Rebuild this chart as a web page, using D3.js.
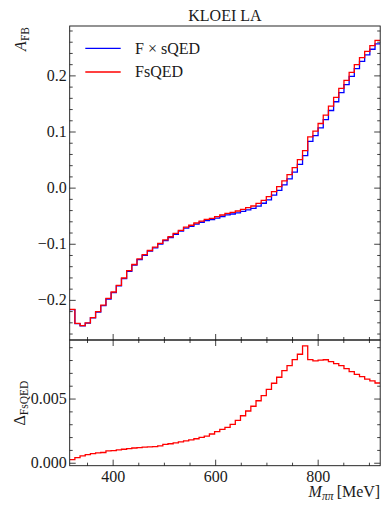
<!DOCTYPE html>
<html>
<head>
<meta charset="utf-8">
<script src="https://cdn.jsdelivr.net/npm/d3@7"></script>
<style>
  html, body { margin: 0; padding: 0; background: #fff; }
  svg { display: block; }
  text { font-family: "Liberation Serif", "Times New Roman", serif; fill: #1a1a1a; }
</style>
</head>
<body>
<svg id="chart" width="381" height="505"></svg>
<script>
// Bin edges in M_pipi [MeV]: 60 equal bins from sqrt(0.1) to sqrt(0.85) GeV
const binEdges = [
  316.2, 326.3, 336.4, 346.5, 356.6, 366.7, 376.8, 386.9, 397.0, 407.1,
  417.2, 427.3, 437.4, 447.5, 457.6, 467.7, 477.8, 487.9, 497.9, 508.0,
  518.1, 528.2, 538.3, 548.4, 558.5, 568.6, 578.7, 588.8, 598.9, 609.0,
  619.1, 629.2, 639.3, 649.4, 659.5, 669.6, 679.7, 689.8, 699.8, 709.9,
  720.0, 730.1, 740.2, 750.3, 760.4, 770.5, 780.6, 790.7, 800.8, 810.9,
  821.0, 831.1, 841.2, 851.3, 861.4, 871.5, 881.6, 891.7, 901.8, 911.9,
  922.0
];

// Forward-backward asymmetry, F x sQED
const afbFxsQED = [
  -0.2172, -0.2424, -0.2465, -0.2416, -0.2322, -0.2218, -0.2103, -0.1984, -0.1870, -0.1750,
  -0.1621, -0.1491, -0.1382, -0.1282, -0.1207, -0.1132, -0.1073, -0.1008, -0.0944, -0.0890,
  -0.0831, -0.0776, -0.0722, -0.0688, -0.0649, -0.0617, -0.0588, -0.0569, -0.0542, -0.0514,
  -0.0486, -0.0470, -0.0449, -0.0424, -0.0397, -0.0371, -0.0328, -0.0278, -0.0217, -0.0133,
  -0.0049,  0.0048,  0.0157,  0.0277,  0.0416,  0.0569,  0.0825,  0.0928,  0.1063,  0.1213,
   0.1374,  0.1530,  0.1692,  0.1837,  0.1983,  0.2121,  0.2249,  0.2364,  0.2466,  0.2563
];

// Forward-backward asymmetry, FsQED
const afbFsQED = [
  -0.2170, -0.2420, -0.2460, -0.2410, -0.2315, -0.2210, -0.2095, -0.1975, -0.1860, -0.1740,
  -0.1610, -0.1480, -0.1370, -0.1270, -0.1195, -0.1120, -0.1060, -0.0995, -0.0930, -0.0875,
  -0.0815, -0.0760, -0.0705, -0.0670, -0.0630, -0.0597, -0.0567, -0.0547, -0.0518, -0.0488,
  -0.0458, -0.0440, -0.0416, -0.0387, -0.0357, -0.0327, -0.0280, -0.0226, -0.0160, -0.0071,
   0.0018,  0.0120,  0.0233,  0.0357,  0.0500,  0.0660,  0.0905,  0.1007,  0.1143,  0.1293,
   0.1453,  0.1607,  0.1768,  0.1910,  0.2054,  0.2190,  0.2316,  0.2429,  0.2530,  0.2625
];

// Difference of the two asymmetries
const deltaFsQED = [
  0.00024, 0.00040, 0.00053, 0.00063, 0.00071, 0.00077, 0.00080, 0.00092, 0.00095, 0.00101,
  0.00105, 0.00110, 0.00115, 0.00118, 0.00121, 0.00123, 0.00125, 0.00131, 0.00143, 0.00148,
  0.00155, 0.00163, 0.00170, 0.00178, 0.00187, 0.00197, 0.00208, 0.00224, 0.00243, 0.00260,
  0.00276, 0.00299, 0.00330, 0.00366, 0.00403, 0.00440, 0.00483, 0.00522, 0.00572, 0.00619,
  0.00666, 0.00717, 0.00756, 0.00803, 0.00845, 0.00911, 0.00803, 0.00793, 0.00800, 0.00802,
  0.00787, 0.00772, 0.00756, 0.00733, 0.00709, 0.00689, 0.00670, 0.00652, 0.00637, 0.00621
];

const xMajorTicks = [400, 600, 800];
const xMinorTicks = [350, 450, 500, 550, 650, 700, 750, 850, 900];
const topMajorTicks = [-0.2, -0.1, 0.0, 0.1, 0.2];
const topMinorTicks = [-0.26, -0.24, -0.22, -0.18, -0.16, -0.14, -0.12, -0.08, -0.06, -0.04, -0.02,
                       0.02, 0.04, 0.06, 0.08, 0.12, 0.14, 0.16, 0.18, 0.22, 0.24, 0.26, 0.28];
const botMajorTicks = [0.000, 0.005];
const botMinorTicks = [0.001, 0.002, 0.003, 0.004, 0.006, 0.007, 0.008, 0.009];

const titleText = "KLOEI LA";
const seriesNames = ["F \u00d7 sQED", "FsQED"];
const seriesColors = ["#0000ff", "#ff0000"];

const svg = d3.select("#chart");
const FONT = 16;

const L = 69.7, R = 380.2;
const topT = 26, topB = 340, botT = 340, botB = 465.7;

const x = d3.scaleLinear().domain([binEdges[0], binEdges[binEdges.length - 1]]).range([L, R]);
const yTop = d3.scaleLinear().domain([-0.2715, 0.2880]).range([topB, topT]);
const yBot = d3.scaleLinear().domain([-0.00023, 0.00956]).range([botB, botT]);

// clip paths for each panel
const defs = svg.append("defs");
defs.append("clipPath").attr("id", "clipTop").append("rect")
  .attr("x", L).attr("y", topT).attr("width", R - L).attr("height", topB - topT);
defs.append("clipPath").attr("id", "clipBot").append("rect")
  .attr("x", L).attr("y", botT).attr("width", R - L).attr("height", botB - botT);

function stairPoints(vals) {
  const pts = vals.map((v, i) => [binEdges[i], v]);
  pts.push([binEdges[vals.length], vals[vals.length - 1]]);
  return pts;
}

function drawStairs(g, vals, yScale, color) {
  const line = d3.line().x(d => x(d[0])).y(d => yScale(d[1])).curve(d3.curveStepAfter);
  g.append("path").datum(stairPoints(vals))
    .attr("d", line).attr("fill", "none")
    .attr("stroke", color).attr("stroke-width", 1.3)
    .attr("stroke-linejoin", "miter");
}

function styleAxis(g) {
  g.select(".domain").remove();
  g.selectAll(".tick line").attr("stroke", "#111").attr("stroke-width", 0.8);
  g.selectAll("text").attr("font-family", "Liberation Serif, serif")
    .attr("font-size", FONT).attr("fill", "#1a1a1a");
  g.attr("font-family", null).attr("font-size", null);
}

// ---------- top panel ----------
const gTopData = svg.append("g").attr("clip-path", "url(#clipTop)");
drawStairs(gTopData, afbFxsQED, yTop, seriesColors[0]);
drawStairs(gTopData, afbFsQED, yTop, seriesColors[1]);

// left
svg.append("g").attr("transform", `translate(${L},0)`)
  .call(d3.axisLeft(yTop).tickValues(topMajorTicks).tickSize(-6).tickPadding(3).tickFormat(d3.format(".1f")))
  .call(styleAxis);
svg.append("g").attr("transform", `translate(${L},0)`)
  .call(d3.axisLeft(yTop).tickValues(topMinorTicks).tickSize(-3).tickFormat(""))
  .call(styleAxis);
// right
svg.append("g").attr("transform", `translate(${R},0)`)
  .call(d3.axisRight(yTop).tickValues(topMajorTicks).tickSize(-6).tickFormat(""))
  .call(styleAxis);
svg.append("g").attr("transform", `translate(${R},0)`)
  .call(d3.axisRight(yTop).tickValues(topMinorTicks).tickSize(-3).tickFormat(""))
  .call(styleAxis);
// bottom of top panel
svg.append("g").attr("transform", `translate(0,${topB})`)
  .call(d3.axisBottom(x).tickValues(xMajorTicks).tickSize(-6).tickFormat(""))
  .call(styleAxis);
svg.append("g").attr("transform", `translate(0,${topB})`)
  .call(d3.axisBottom(x).tickValues(xMinorTicks).tickSize(-3).tickFormat(""))
  .call(styleAxis);

// ---------- bottom panel ----------
const gBotData = svg.append("g").attr("clip-path", "url(#clipBot)");
drawStairs(gBotData, deltaFsQED, yBot, seriesColors[1]);

svg.append("g").attr("transform", `translate(${L},0)`)
  .call(d3.axisLeft(yBot).tickValues(botMajorTicks).tickSize(-6).tickPadding(3).tickFormat(d3.format(".3f")))
  .call(styleAxis);
svg.append("g").attr("transform", `translate(${L},0)`)
  .call(d3.axisLeft(yBot).tickValues(botMinorTicks).tickSize(-3).tickFormat(""))
  .call(styleAxis);
svg.append("g").attr("transform", `translate(${R},0)`)
  .call(d3.axisRight(yBot).tickValues(botMajorTicks).tickSize(-6).tickFormat(""))
  .call(styleAxis);
svg.append("g").attr("transform", `translate(${R},0)`)
  .call(d3.axisRight(yBot).tickValues(botMinorTicks).tickSize(-3).tickFormat(""))
  .call(styleAxis);
// top edge of bottom panel
svg.append("g").attr("transform", `translate(0,${botT})`)
  .call(d3.axisTop(x).tickValues(xMajorTicks).tickSize(-6).tickFormat(""))
  .call(styleAxis);
svg.append("g").attr("transform", `translate(0,${botT})`)
  .call(d3.axisTop(x).tickValues(xMinorTicks).tickSize(-3).tickFormat(""))
  .call(styleAxis);
// bottom edge with labels
svg.append("g").attr("transform", `translate(0,${botB})`)
  .call(d3.axisBottom(x).tickValues(xMajorTicks).tickSize(-6).tickPadding(4.5).tickFormat(d3.format("d")))
  .call(styleAxis);
svg.append("g").attr("transform", `translate(0,${botB})`)
  .call(d3.axisBottom(x).tickValues(xMinorTicks).tickSize(-3).tickFormat(""))
  .call(styleAxis);

// frames
svg.append("rect").attr("x", L).attr("y", topT).attr("width", R - L).attr("height", topB - topT)
  .attr("fill", "none").attr("stroke", "#111").attr("stroke-width", 0.9);
svg.append("rect").attr("x", L).attr("y", botT).attr("width", R - L).attr("height", botB - botT)
  .attr("fill", "none").attr("stroke", "#111").attr("stroke-width", 0.9);

// title
svg.append("text").attr("x", (L + R) / 2).attr("y", 20.5)
  .attr("text-anchor", "middle").attr("font-size", FONT).text(titleText);

// legend
const legend = svg.append("g");
seriesNames.forEach((name, i) => {
  const yy = 48.3 + i * 23.7;
  legend.append("line").attr("x1", 85.3).attr("x2", 120.7).attr("y1", yy).attr("y2", yy)
    .attr("stroke", seriesColors[i]).attr("stroke-width", 1.3);
  legend.append("text").attr("x", 135).attr("y", yy + 5.3).attr("font-size", FONT).text(name);
});

// y label, top panel: A_FB
const ylab1 = svg.append("text").attr("transform", "translate(26,27) rotate(-90)")
  .attr("text-anchor", "end").attr("font-size", FONT);
ylab1.append("tspan").attr("font-style", "italic").text("A");
ylab1.append("tspan").attr("font-size", FONT * 0.72).attr("dy", 3).text("FB");

// y label, bottom panel: Delta_FsQED
const ylab2 = svg.append("text").attr("transform", "translate(25,403) rotate(-90)")
  .attr("text-anchor", "middle").attr("font-size", FONT);
ylab2.append("tspan").text("\u0394");
ylab2.append("tspan").attr("font-size", FONT * 0.72).attr("dy", 3).text("FsQED");

// x label: M_pipi [MeV]
const xlab = svg.append("text").attr("x", R).attr("y", 497)
  .attr("text-anchor", "end").attr("font-size", FONT);
xlab.append("tspan").attr("font-style", "italic").text("M");
xlab.append("tspan").attr("font-style", "italic").attr("font-size", FONT * 0.72).attr("dy", 3).text("\u03c0\u03c0");
xlab.append("tspan").attr("dy", -3).text("\u2009[MeV]");
</script>
</body>
</html>
